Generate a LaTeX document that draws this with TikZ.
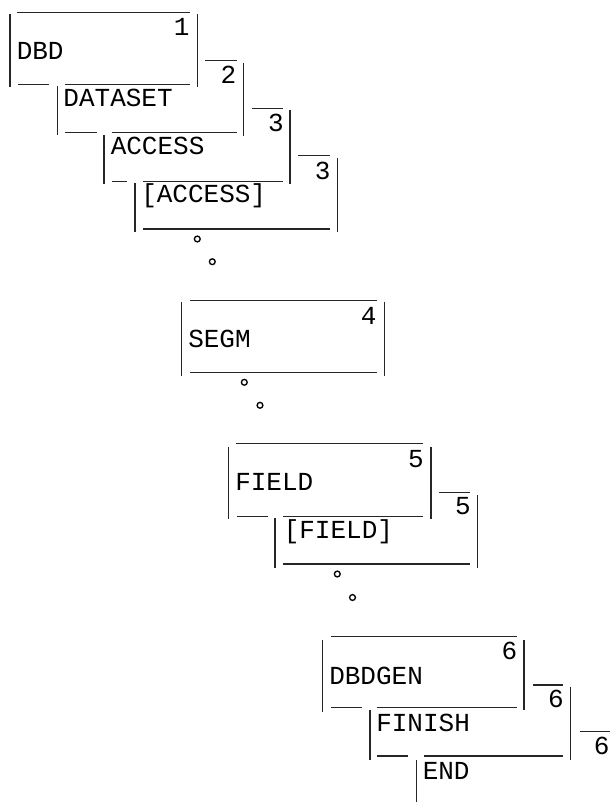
\documentclass[tikz,border=0pt]{standalone}
\usepackage{fontspec}
\newfontfamily\monof{Liberation Mono}
\tikzset{
  ln/.style={line width=1pt, draw=black!85},
  tx/.style={anchor=base west, inner sep=0pt, font=\monof\fontsize{19.5}{23}\selectfont, text=black},
  dg/.style={anchor=base, inner sep=0pt, font=\monof\fontsize{19.5}{23}\selectfont, text=black},
  dotc/.style={line width=1pt, draw=black, fill=white}
}
\begin{document}
\begin{tikzpicture}[x=0.75pt,y=-0.75pt]
\useasboundingbox (0,0) rectangle (616,803);
% ---- box 1: DBD
\draw[ln] (17.3,12.7) -- (190,12.7);
\draw[ln] (10,14) -- (10,87.3);
\draw[ln] (197.3,14) -- (197.3,87.3);
\draw[ln] (18.3,84.3) -- (49.3,84.3);
\draw[ln] (65,84.3) -- (190,84.3);
\node[dg] (n1) at (181.7,35.8) {1};
\node[tx] (dbd) at (16.5,59.2) {DBD};
% ---- box 2: DATASET
\draw[ln] (205,60.7) -- (236.7,60.7);
\draw[ln] (243.3,62.7) -- (243.3,136);
\draw[ln] (57.3,86) -- (57.3,135);
\draw[ln] (65,132.7) -- (96.7,132.7);
\draw[ln] (111.7,132.7) -- (236.7,132.7);
\node[dg] (n2) at (228.3,83.5) {2};
\node[tx] (dataset) at (63.2,106.8) {DATASET};
% ---- box 3: ACCESS
\draw[ln] (251.7,108.3) -- (283.3,108.3);
\draw[ln] (290,110) -- (290,184);
\draw[ln] (104,135) -- (104,184);
\draw[ln] (111.7,181.7) -- (127.3,181.7);
\draw[ln] (142.7,181.7) -- (283.3,181.7);
\node[dg] (n3) at (276,131.5) {3};
\node[tx] (access) at (110.5,154.2) {ACCESS};
% ---- box 3b: [ACCESS]
\draw[ln] (298.3,155.7) -- (330,155.7);
\draw[ln] (337.7,158.3) -- (337.7,231.7);
\draw[ln] (135,182.7) -- (135,231.7);
\draw[ln] (142.7,229) -- (330,229);
\node[dg] (n3b) at (322.7,179.2) {3};
\node[tx] (accessopt) at (141,202.5) {[ACCESS]};
% dots
\draw[dotc] (197.3,239) circle[radius=2.9];
\draw[dotc] (212.3,261.7) circle[radius=2.9];
% ---- box 4: SEGM
\draw[ln] (190,300.7) -- (376.7,300.7);
\draw[ln] (181.7,301.7) -- (181.7,376);
\draw[ln] (384.3,301.7) -- (384.3,376);
\draw[ln] (190,372.7) -- (376.7,372.7);
\node[dg] (n4) at (368.7,324.2) {4};
\node[tx] (segm) at (188,347.5) {SEGM};
% dots
\draw[dotc] (244.3,382.3) circle[radius=2.9];
\draw[dotc] (260,405.3) circle[radius=2.9];
% ---- box 5: FIELD
\draw[ln] (236,443.3) -- (422.7,443.3);
\draw[ln] (228.3,446.7) -- (228.3,519.3);
\draw[ln] (431,446.7) -- (431,519.3);
\draw[ln] (236.7,516.7) -- (268.3,516.7);
\draw[ln] (282.7,516.7) -- (422.7,516.7);
\node[dg] (n5) at (416,467.5) {5};
\node[tx] (field) at (235,490.8) {FIELD};
% ---- box 5b: [FIELD]
\draw[ln] (439.3,492.7) -- (470,492.7);
\draw[ln] (477.7,495) -- (477.7,568.3);
\draw[ln] (275,518.3) -- (275,568.3);
\draw[ln] (282.7,564) -- (470,564);
\node[dg] (n5b) at (463,514.8) {5};
\node[tx] (fieldopt) at (283.5,538.2) {[FIELD]};
% dots
\draw[dotc] (337.3,574) circle[radius=2.9];
\draw[dotc] (352.5,597.5) circle[radius=2.9];
% ---- box 6: DBDGEN
\draw[ln] (330.7,636.7) -- (516.7,636.7);
\draw[ln] (322.7,640) -- (322.7,711.7);
\draw[ln] (524,640) -- (524,710);
\draw[ln] (330.7,707.3) -- (361.7,707.3);
\draw[ln] (376.7,707.3) -- (516.7,707.3);
\node[dg] (n6) at (509.3,659.2) {6};
\node[tx] (dbdgen) at (329,684.2) {DBDGEN};
% ---- box 6b: FINISH
\draw[ln] (533.3,685) -- (563.3,685);
\draw[ln] (570.7,686.7) -- (570.7,760);
\draw[ln] (370,710) -- (370,760);
\draw[ln] (377.3,756) -- (408.3,756);
\draw[ln] (424,756) -- (563.3,756);
\node[dg] (n6b) at (556,707.5) {6};
\node[tx] (finish) at (376,731.5) {FINISH};
% ---- box 6c: END
\draw[ln] (580,731.7) -- (610,731.7);
\draw[ln] (416.7,760) -- (416.7,801.7);
\node[dg] (n6c) at (601.7,754.2) {6};
\node[tx] (endn) at (422.5,779.2) {END};
\end{tikzpicture}
\end{document}
